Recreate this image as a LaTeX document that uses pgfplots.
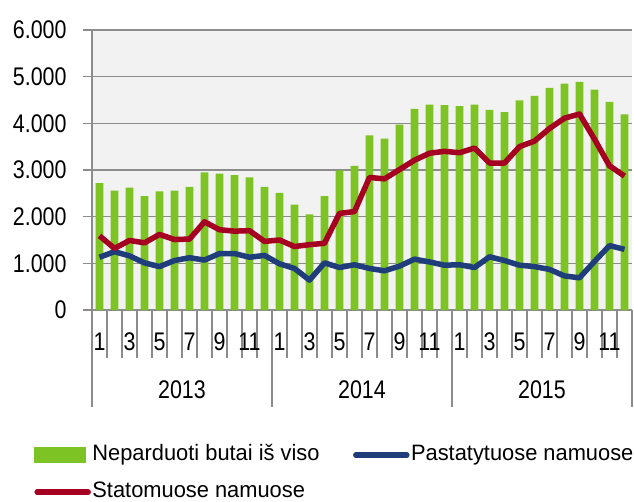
\documentclass[border=0pt]{standalone}
\usepackage{fontspec}
\setmainfont[FakeStretch=0.84]{Liberation Sans}
\newfontfamily\legfont[FakeStretch=0.98]{Liberation Sans}
\usepackage{pgfplots}
\usepackage{pgfplotstable}
\pgfplotsset{compat=1.18}
\definecolor{barg}{RGB}{125,195,35}
\definecolor{lred}{RGB}{165,0,33}
\definecolor{lblue}{RGB}{31,61,122}
\definecolor{gridg}{RGB}{140,140,140}
\pgfplotstableread{
m bars red blue
1 2720 1590 1130
2 2560 1320 1250
3 2620 1490 1160
4 2440 1440 1010
5 2540 1620 930
6 2560 1510 1060
7 2640 1520 1120
8 2950 1890 1070
9 2920 1720 1210
10 2890 1690 1210
11 2840 1700 1130
12 2640 1470 1170
13 2510 1500 990
14 2260 1360 890
15 2050 1400 640
16 2440 1430 1010
17 2990 2070 910
18 3090 2110 970
19 3740 2840 890
20 3670 2810 840
21 3970 3010 940
22 4310 3210 1090
23 4400 3360 1030
24 4390 3400 960
25 4370 3370 970
26 4400 3470 910
27 4290 3150 1140
28 4240 3150 1060
29 4490 3500 960
30 4590 3620 930
31 4760 3890 870
32 4850 4110 730
33 4890 4200 690
34 4720 3660 1040
35 4460 3090 1380
36 4190 2870 1300
}\data
\begin{document}
\begin{tikzpicture}
\useasboundingbox (-92bp,-192bp) rectangle (542bp,310bp);
\begin{axis}[
  at={(0,0)}, anchor=south west,
  scale only axis, width=540bp, height=280bp,
  xmin=0.5, xmax=36.5, ymin=0, ymax=6000,
  axis x line=bottom, axis y line=left,
  axis line style={gridg, line width=1.5bp, -},
  axis background/.style={fill=black!5},
  clip=false,
  ytick={0,1000,...,6000},
  ymajorgrids, grid style={gridg, line width=1.5bp},
  /pgf/number format/assume math mode=true,
  /pgf/number format/1000 sep={.},
  tick align=outside,
  ytick style={gridg, line width=1.5bp, /pgfplots/major tick length=9bp},
  yticklabel style={font=\fontsize{25.5bp}{27bp}\selectfont, anchor=east, inner sep=0pt, xshift=-21bp},
  xtick={0.5,1.5,...,36.5}, xticklabels={},
  xtick style={gridg, line width=1.5bp, /pgfplots/major tick length=48bp},
  extra x ticks={1,3,...,35},
  extra x tick labels={1,3,5,7,9,11,1,3,5,7,9,11,1,3,5,7,9,11},
  extra x tick style={/pgfplots/major tick length=0pt, tick style={draw=none},
     xticklabel style={font=\fontsize{25.5bp}{27bp}\selectfont, anchor=base, inner sep=0pt, yshift=-40bp}},
  legend columns=2,
  legend cell align=left,
  legend style={at={(-0.113,-0.468)}, anchor=north west, draw=none, fill=none,
     font=\legfont\fontsize{22.3bp}{24bp}\selectfont,
     nodes={inner sep=1.5bp, text height=16bp, text depth=5bp},
     row sep=13bp,
     /tikz/every even column/.append style={column sep=32bp}},
]
\addplot[ybar, bar width=7.7bp, fill=barg, draw=none,
  legend image code/.code={\fill[barg] (0bp,-8bp) rectangle (52bp,8bp);}]
  table[x=m, y=bars] {\data};
\addlegendentry{Neparduoti butai iš viso}
\addplot[lblue, line width=5.5bp, line join=round, no marks,
  legend image code/.code={\draw[lblue, line width=5.5bp, line cap=round] (3bp,0bp) -- (54bp,0bp);}]
  table[x=m, y=blue] {\data};
\addlegendentry{Pastatytuose namuose}
\addplot[lred, line width=5.5bp, line join=round, no marks,
  legend image code/.code={\draw[lred, line width=5.5bp, line cap=round] (3bp,0bp) -- (54bp,0bp);}]
  table[x=m, y=red] {\data};
\addlegendentry{Statomuose namuose}
\draw[gridg, line width=1.5bp] (axis cs:0.5,0) -- ++(0bp,-97bp);
\draw[gridg, line width=1.5bp] (axis cs:12.5,0) -- ++(0bp,-97bp);
\draw[gridg, line width=1.5bp] (axis cs:24.5,0) -- ++(0bp,-97bp);
\draw[gridg, line width=1.5bp] (axis cs:36.5,0) -- ++(0bp,-97bp);
\node[font=\fontsize{25.5bp}{27bp}\selectfont, anchor=base] at ([yshift=-88bp]axis cs:6.5,0) {2013};
\node[font=\fontsize{25.5bp}{27bp}\selectfont, anchor=base] at ([yshift=-88bp]axis cs:18.5,0) {2014};
\node[font=\fontsize{25.5bp}{27bp}\selectfont, anchor=base] at ([yshift=-88bp]axis cs:30.5,0) {2015};
\end{axis}
\end{tikzpicture}
\end{document}
